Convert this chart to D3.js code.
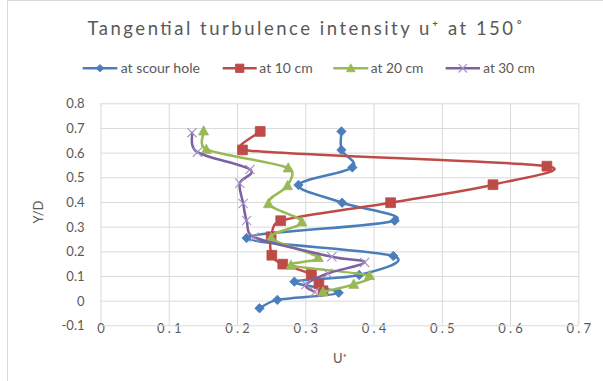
<!DOCTYPE html>
<html>
<head>
<meta charset="utf-8">
<script src="https://cdn.jsdelivr.net/npm/d3@7"></script>
<style>
  html, body { margin: 0; padding: 0; background: #fff; }
  svg { display: block; }
  text { font-family: Lato, "Open Sans", "Liberation Sans", sans-serif; fill: #595959; }
</style>
</head>
<body>
<svg id="chart" width="603" height="381"></svg>
<script>
// Tangential turbulence intensity profiles (U+ against Y/D) at the 150° section
const seriesNames = ["at scour hole", "at 10 cm", "at 20 cm", "at 30 cm"];

const scourHoleY = [-0.031, 0.003, 0.032, 0.077, 0.104, 0.181, 0.254, 0.324, 0.397, 0.469, 0.540, 0.611, 0.686];
const scourHoleU = [0.233, 0.259, 0.349, 0.284, 0.379, 0.429, 0.214, 0.431, 0.354, 0.290, 0.369, 0.353, 0.353];

const at10Y = [0.040, 0.068, 0.107, 0.148, 0.184, 0.259, 0.324, 0.397, 0.470, 0.545, 0.611, 0.686];
const at10U = [0.326, 0.320, 0.309, 0.267, 0.251, 0.250, 0.264, 0.425, 0.575, 0.654, 0.208, 0.234];

const at20Y = [0.036, 0.066, 0.102, 0.143, 0.175, 0.255, 0.319, 0.393, 0.466, 0.538, 0.613, 0.688];
const at20U = [0.326, 0.371, 0.394, 0.279, 0.319, 0.250, 0.295, 0.246, 0.274, 0.275, 0.155, 0.151];

const at30Y = [0.035, 0.065, 0.110, 0.155, 0.178, 0.257, 0.325, 0.394, 0.476, 0.532, 0.602, 0.681];
const at30U = [0.314, 0.301, 0.333, 0.387, 0.339, 0.225, 0.214, 0.209, 0.204, 0.219, 0.142, 0.134];

const xTickValues = [0, 0.1, 0.2, 0.3, 0.4, 0.5, 0.6, 0.7];
const xTickLabels = ["0", "0.1", "0.2", "0.3", "0.4", "0.5", "0.6", "0.7"];
const yTickValues = [-0.1, 0, 0.1, 0.2, 0.3, 0.4, 0.5, 0.6, 0.7, 0.8];
const yTickLabels = ["-0.1", "0", "0.1", "0.2", "0.3", "0.4", "0.5", "0.6", "0.7", "0.8"];

const titleText = "Tangential turbulence intensity u\u207A at 150\u02DA";
const xTitle = "U\u207A";
const yTitle = "Y/D";

const colors = ["#4A7EBB", "#BE4B48", "#98B954", "#7D60A0"];
const markerTypes = ["diamond", "square", "triangle", "x"];

const series = [
  { name: seriesNames[0], u: scourHoleU, yd: scourHoleY },
  { name: seriesNames[1], u: at10U, yd: at10Y },
  { name: seriesNames[2], u: at20U, yd: at20Y },
  { name: seriesNames[3], u: at30U, yd: at30Y }
].map((s, i) => ({
  name: s.name,
  color: colors[i],
  marker: markerTypes[i],
  points: s.u.map((u, j) => ({ u, yd: s.yd[j] }))
}));

const svg = d3.select("#chart");
const plot = { left: 100.5, right: 578.3, top: 103.3, bottom: 325.3 };

const x = d3.scaleLinear().domain([0, 0.7]).range([plot.left, plot.right]);
const y = d3.scaleLinear().domain([-0.1, 0.8]).range([plot.bottom, plot.top]);

// Spreadsheet-style smoothing: cubic Bezier segments whose control arms are
// one sixth of the neighbour chord, capped at half of the segment length.
function SmoothCurve(context) { this._context = context; }
SmoothCurve.prototype = {
  areaStart() {}, areaEnd() {},
  lineStart() { this._pts = []; },
  point(px, py) { this._pts.push([+px, +py]); },
  lineEnd() {
    const p = this._pts, n = p.length, c = this._context;
    if (!n) return;
    const dist = (a, b) => Math.hypot(b[0] - a[0], b[1] - a[1]);
    c.moveTo(p[0][0], p[0][1]);
    for (let i = 0; i < n - 1; i++) {
      const p0 = p[i - 1] || p[i], p1 = p[i], p2 = p[i + 1], p3 = p[i + 2] || p[i + 1];
      const d12 = dist(p1, p2), d02 = dist(p0, p2), d13 = dist(p1, p3);
      let f1 = 1 / 6, f2 = 1 / 6;
      if (d02 > 0 && d02 * f1 > d12 / 2) f1 = d12 / (2 * d02);
      if (d13 > 0 && d13 * f2 > d12 / 2) f2 = d12 / (2 * d13);
      c.bezierCurveTo(
        p1[0] + f1 * (p2[0] - p0[0]), p1[1] + f1 * (p2[1] - p0[1]),
        p2[0] - f2 * (p3[0] - p1[0]), p2[1] - f2 * (p3[1] - p1[1]),
        p2[0], p2[1]);
    }
  }
};
const smoothCurve = context => new SmoothCurve(context);

// outer chart frame (only the left and top edges fall inside the view)
svg.append("path")
  .attr("d", "M7.5,381 V0.5 H603")
  .attr("fill", "none").attr("stroke", "#d9d9d9").attr("stroke-width", 1);

// gridlines and tick labels
const gx = svg.append("g")
  .attr("transform", `translate(0,${plot.bottom})`)
  .call(d3.axisBottom(x)
    .tickValues(xTickValues)
    .tickSize(-(plot.bottom - plot.top))
    .tickPadding(0)
    .tickFormat((d, i) => xTickLabels[i]));
gx.select(".domain").remove();
gx.selectAll(".tick line").attr("stroke", "#d9d9d9").attr("stroke-width", 1);
gx.selectAll(".tick text")
  .attr("y", 8).attr("dy", 0)
  .attr("font-size", 13)
  .attr("fill", "#595959")
  .style("letter-spacing", d => d === 0 ? "0px" : "3.2px")
  .attr("dx", d => d === 0 ? 0 : 1.6);

const gy = svg.append("g")
  .attr("transform", `translate(${plot.left},0)`)
  .call(d3.axisLeft(y)
    .tickValues(yTickValues)
    .tickSize(-(plot.right - plot.left))
    .tickPadding(16)
    .tickFormat((d, i) => yTickLabels[i]));
gy.select(".domain").remove();
gy.selectAll(".tick line").attr("stroke", "#d9d9d9").attr("stroke-width", 1);
gy.selectAll(".tick text")
  .attr("font-size", 13)
  .attr("fill", "#595959")
  .attr("dy", "0.35em");

// marker shapes
function markerPath(type, r) {
  switch (type) {
    case "diamond": return `M0,${-r}L${r},0L0,${r}L${-r},0Z`;
    case "square": return `M${-r},${-r}H${r}V${r}H${-r}Z`;
    case "triangle": return `M0,${-r * 1.05}L${r},${r * 0.8}L${-r},${r * 0.8}Z`;
    default: return `M${-r},${-r}L${r},${r}M${-r},${r}L${r},${-r}`;
  }
}
const markerSize = { diamond: 4.7, square: 4.9, triangle: 5, x: 4.6 };
function styleMarker(sel, s) {
  if (s.marker === "x") {
    sel.attr("fill", "none").attr("stroke", "#A393C6").attr("stroke-width", 1.1);
  } else {
    sel.attr("fill", s.color).attr("stroke", s.color).attr("stroke-width", 0.8);
  }
}

// smoothed lines with markers, drawn series by series
const line = d3.line()
  .x(d => x(d.u))
  .y(d => y(d.yd))
  .curve(smoothCurve);

series.forEach(s => {
  const g = svg.append("g");
  g.append("path")
    .datum(s.points)
    .attr("d", line)
    .attr("fill", "none")
    .attr("stroke", s.color)
    .attr("stroke-width", 2.5)
    .attr("stroke-linejoin", "round")
    .attr("stroke-linecap", "round");
  g.selectAll("path.mk")
    .data(s.points)
    .join("path")
    .attr("class", "mk")
    .attr("transform", d => `translate(${x(d.u)},${y(d.yd)})`)
    .attr("d", markerPath(s.marker, markerSize[s.marker]))
    .call(styleMarker, s);
});

// title
svg.append("text")
  .attr("x", 87.5).attr("y", 34.5)
  .attr("font-size", 18.5)
  .attr("textLength", 435.5)
  .attr("lengthAdjust", "spacing")
  .attr("fill", "#595959")
  .text(titleText);

// legend
const legendY = 68.3;
const legendItems = [
  { lineX0: 82.7, lineX1: 117.3, textX: 120.7, textW: 79.3 },
  { lineX0: 222.7, lineX1: 256.7, textX: 259.3, textW: 53.4 },
  { lineX0: 333.3, lineX1: 368.3, textX: 370.7, textW: 52.6 },
  { lineX0: 445.7, lineX1: 480.0, textX: 483.3, textW: 51.7 }
];
const legendMarkerSize = { diamond: 3.8, square: 4.2, triangle: 4.3, x: 4.2 };
series.forEach((s, i) => {
  const it = legendItems[i];
  const g = svg.append("g");
  g.append("line")
    .attr("x1", it.lineX0).attr("x2", it.lineX1)
    .attr("y1", legendY).attr("y2", legendY)
    .attr("stroke", s.color).attr("stroke-width", 2.5);
  g.append("path")
    .attr("transform", `translate(${(it.lineX0 + it.lineX1) / 2},${legendY})`)
    .attr("d", markerPath(s.marker, legendMarkerSize[s.marker]))
    .call(styleMarker, s);
  g.append("text")
    .attr("x", it.textX).attr("y", legendY + 4.6)
    .attr("font-size", 13.5)
    .attr("textLength", it.textW)
    .attr("lengthAdjust", "spacingAndGlyphs")
    .text(s.name);
});

// axis titles
svg.append("text")
  .attr("x", 340).attr("y", 363)
  .attr("text-anchor", "middle")
  .attr("font-size", 13)
  .text(xTitle);

svg.append("text")
  .attr("transform", "translate(43,212) rotate(-90)")
  .attr("text-anchor", "middle")
  .attr("font-size", 13)
  .text(yTitle);
</script>
</body>
</html>
